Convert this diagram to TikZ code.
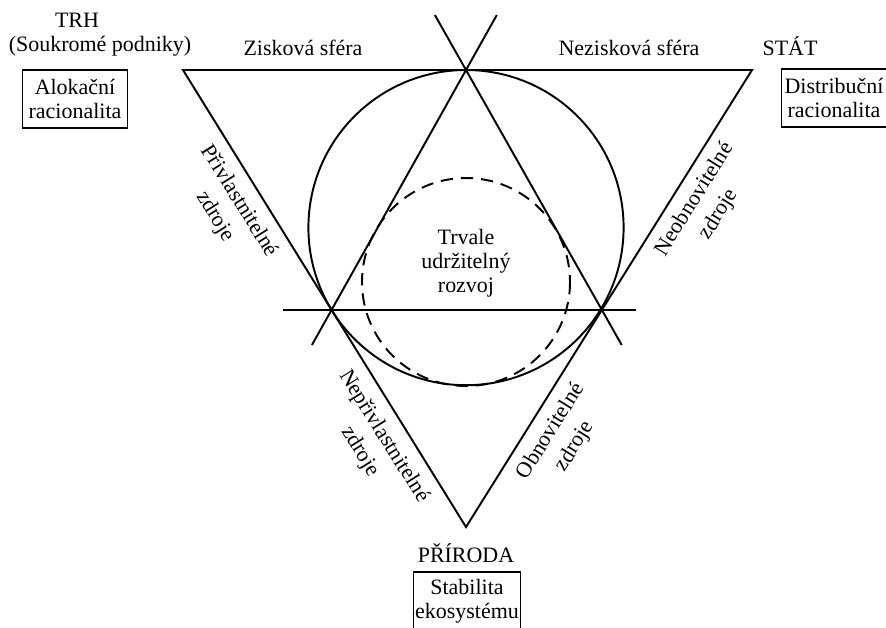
\documentclass[tikz,border=0pt]{standalone}
\usepackage{fontspec}
\setmainfont{Liberation Serif}
\usetikzlibrary{calc}
\tikzset{
    edge/.style={-,line width=1.1pt},
    dashcirc/.style={line width=1.1pt,dash pattern=on 7pt off 4.5pt},
    box/.style={draw,line width=1pt,align=center,minimum width=2.1cm,minimum height=1.16cm,inner sep=1pt},
    lbl/.style={align=center},
    side/.style={align=center,font=\fontsize{12.5}{16}\selectfont},
}

\begin{document}
\begin{tikzpicture}[x=0.02cm, y=-0.02cm, every node/.style={font=\fontsize{12.5}{13.5}\selectfont}]
\useasboundingbox (0,0) rectangle (886,627);
% --- Inverted triangle ---
                \coordinate (tl) at (183,70);
                \coordinate (tr) at (752,70);
                \coordinate (bot) at (466,527);
                \draw[edge] (tl) -- (tr) -- (bot) -- cycle;
% --- Upright triangle (extended sides) ---
                \coordinate (apex) at (466,70);
                \coordinate (bl) at ($(tl)!0.525!(bot)$);
                \coordinate (br) at ($(tr)!0.525!(bot)$);
                \coordinate (lA) at ($(apex)!-0.229!(bl)$);
                \coordinate (lB) at ($(apex)!1.146!(bl)$);
                \coordinate (rA) at ($(apex)!-0.229!(br)$);
                \coordinate (rB) at ($(apex)!1.146!(br)$);
                \coordinate (hA) at (283,310);
                \coordinate (hB) at (636,310);
                \draw[edge] (lA) -- (lB);
                \draw[edge] (rA) -- (rB);
                \draw[edge] (hA) -- (hB);
% --- Circles ---
                \coordinate (cc) at (466,227.6);
                \coordinate (dc) at (466,282);
                \draw[edge] (cc) circle[radius=157.6];
                \draw[dashcirc] (dc) circle[radius=104];
% --- Corners ---
                \node (trh) at (77,20) {TRH};
                \node (firmy) at (100,46) {(Soukromé podniky)};
                \node[box] (alok) at (75,99) {Alokační\\racionalita};
                \node (stat) at (790,46) {STÁT};
                \node[box] (distr) at (834,98) {Distribuční\\racionalita};
                \node (prir) at (466,553) {PŘÍRODA};
                \node[box] (stab) at (467,601) {Stabilita\\ekosystému};
% --- Top edge ---
                \node (zisk) at (303,48) {Zisková sféra};
                \node (nezisk) at (629,48) {Nezisková sféra};
% --- Side labels ---
                \node[side,rotate=-58] (priv) at (227,209) {Přivlastnitelné\\zdroje};
                \node[side,rotate=58] (neobn) at (707,207) {Neobnovitelné\\zdroje};
                \node[side,rotate=-58] (nepriv) at (372,444) {Nepřivlastnitelné\\zdroje};
                \node[side,rotate=58] (obn) at (563,439) {Obnovitelné\\zdroje};
% --- Centre ---
                \node[lbl] (trvale) at (466,263) {Trvale\\udržitelný\\rozvoj};
            \end{tikzpicture}
\end{document}
